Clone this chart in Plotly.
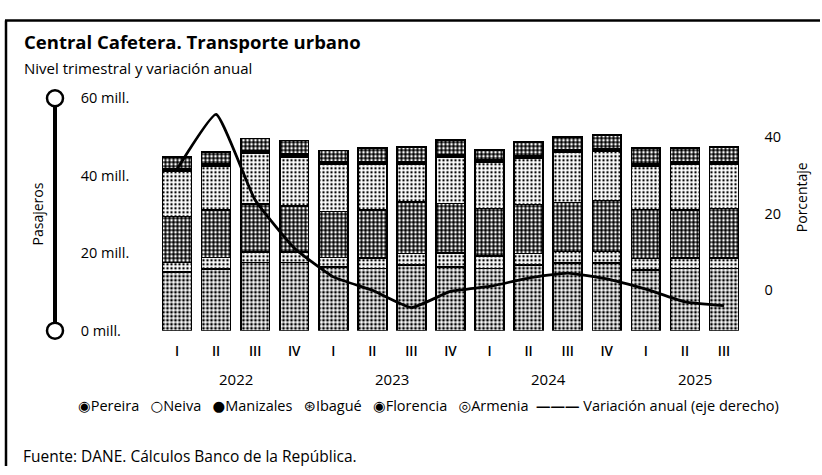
import plotly.graph_objects as go

# ---------------- data ----------------
quarters = ["I", "II", "III", "IV", "I", "II", "III", "IV", "I", "II", "III", "IV", "I", "II", "III"]
years = ["2022", "2023", "2024", "2025"]
left_ticks = [0, 20, 40, 60]
left_tick_labels = ["0 mill.", "20 mill.", "40 mill.", "60 mill."]
right_ticks = [0, 20, 40]

# millions of passengers per quarter
pereira = [15.1, 15.9, 17.6, 17.6, 16.4, 16.1, 16.9, 16.4, 16.1, 16.9, 17.4, 17.4, 15.6, 16.1, 16.1]
neiva = [2.5, 3.0, 2.7, 2.7, 2.5, 2.7, 3.0, 3.7, 3.2, 3.0, 3.0, 3.0, 3.0, 2.7, 2.7]
manizales = [11.9, 12.2, 12.4, 11.9, 11.9, 12.4, 13.4, 12.7, 12.2, 12.7, 12.7, 13.2, 12.7, 12.4, 12.7]
ibague = [11.7, 11.4, 13.2, 12.7, 12.2, 11.7, 9.7, 11.9, 11.9, 11.9, 12.9, 12.7, 11.2, 11.7, 11.4]
florencia = [0.6, 0.6, 0.6, 0.7, 0.6, 0.6, 0.7, 0.7, 0.6, 0.6, 0.7, 0.7, 0.7, 0.6, 0.6]
armenia = [3.1, 3.1, 3.1, 3.5, 2.9, 3.6, 3.8, 3.8, 2.6, 3.6, 3.3, 3.5, 4.0, 3.6, 3.9]
# annual variation (%)
variacion = [31.5, 45.8, 23.5, 11.0, 3.5, 0.0, -4.5, -0.3, 1.0, 3.2, 4.5, 3.0, 0.3, -3.0, -4.0]

series = [
    ("Pereira", pereira),
    ("Neiva", neiva),
    ("Manizales", manizales),
    ("Ibagué", ibague),
    ("Florencia", florencia),
    ("Armenia", armenia),
]

# ---------------- styling ----------------
W, H = 822, 475
FONT = "Open Sans"


def px_x(p):
    return p / W


def px_y(p):
    return (H - p) / H


styles = {
    "Pereira": dict(bg="white", fg="black", size=4, sol=0.42),
    "Neiva": dict(bg="white", fg="black", size=4, sol=0.30),
    "Manizales": dict(bg="black", fg="white", size=4, sol=0.38),
    "Ibagué": dict(bg="white", fg="black", size=4, sol=0.28),
    "Florencia": dict(bg="black", fg="black", size=4, sol=0.5),
    "Armenia": dict(bg="black", fg="white", size=4, sol=0.38),
}

idx = list(range(len(quarters)))
fig = go.Figure()
for name, vals in series:
    s = styles[name]
    fig.add_trace(go.Bar(
        x=idx, y=vals, name=name, showlegend=False,
        marker=dict(
            color=s["bg"],
            line=dict(color="black", width=1.6),
            pattern=dict(shape=".", bgcolor=s["bg"], fgcolor=s["fg"],
                         size=s["size"], solidity=s["sol"], fillmode="replace"),
        ),
    ))

fig.add_trace(go.Scatter(
    x=idx, y=variacion, yaxis="y2", mode="lines", showlegend=False,
    name="Variación anual (eje derecho)",
    line=dict(color="black", width=2.8, shape="spline", smoothing=0.4),
))

x_dom = [px_x(157.5), px_x(743.5)]
y_dom = [px_y(334), px_y(92)]

fig.update_layout(
    width=W, height=H,
    margin=dict(l=0, r=0, t=0, b=0),
    paper_bgcolor="white", plot_bgcolor="white",
    barmode="stack", bargap=0.26,
    font=dict(family=FONT, color="black", size=13),
    xaxis=dict(
        domain=x_dom, range=[-0.5, len(quarters) - 0.5],
        tickvals=idx, ticktext=quarters, ticks="", showgrid=False,
        showline=False, zeroline=False, ticklabelstandoff=11,
        tickfont=dict(size=13.5, family=FONT, weight=600),
    ),
    yaxis=dict(
        domain=y_dom, range=[0, 60], anchor="free", position=px_x(55),
        side="right", showline=True, linecolor="black", linewidth=3.5,
        ticks="", tickvals=left_ticks, ticktext=left_tick_labels,
        ticklabelstandoff=21, showgrid=False, zeroline=False,
        tickfont=dict(size=14.5, family=FONT),
    ),
    yaxis2=dict(
        overlaying="y", side="right", anchor="x", range=[-10.5, 50],
        tickvals=right_ticks, ticks="", showgrid=False, zeroline=False,
        showline=False, ticklabelstandoff=20,
        tickfont=dict(size=14.5, family=FONT),
    ),
)

shapes = []
# end circles of the left axis
for ypx in (334, 92):
    shapes.append(dict(
        type="circle", layer="above",
        xref="paper", xsizemode="pixel", xanchor=px_x(55), x0=-8, x1=8,
        yref="paper", ysizemode="pixel", yanchor=px_y(ypx), y0=-8, y1=8,
        fillcolor="white", line=dict(color="black", width=2.5),
    ))
# frame (top and left)
shapes.append(dict(type="line", xref="paper", yref="paper",
                   x0=px_x(5), x1=px_x(820), y0=px_y(11), y1=px_y(11),
                   line=dict(color="black", width=2.5)))
shapes.append(dict(type="line", xref="paper", yref="paper",
                   x0=px_x(6), x1=px_x(6), y0=0, y1=px_y(11),
                   line=dict(color="black", width=2.5)))
fig.update_layout(shapes=shapes)

ann = []
ann.append(dict(text="Central Cafetera. Transporte urbano", xref="paper", yref="paper",
                x=px_x(22), y=px_y(33), xanchor="left", yanchor="middle", showarrow=False,
                font=dict(size=18.5, family=FONT, weight="bold")))
ann.append(dict(text="Nivel trimestral y variación anual", xref="paper", yref="paper",
                x=px_x(22), y=px_y(60), xanchor="left", yanchor="middle", showarrow=False,
                font=dict(size=15, family=FONT)))
ann.append(dict(text="Pasajeros", xref="paper", yref="paper", textangle=-90,
                x=px_x(37), y=px_y(213), xanchor="center", yanchor="middle", showarrow=False,
                font=dict(size=14, family=FONT)))
ann.append(dict(text="Porcentaje", xref="paper", yref="paper", textangle=-90,
                x=px_x(801), y=px_y(195), xanchor="center", yanchor="middle", showarrow=False,
                font=dict(size=14, family=FONT)))
year_centers = [1.5, 5.5, 9.5, 13.25]
for yr, xc in zip(years, year_centers):
    ann.append(dict(text=yr, xref="x", yref="paper", x=xc, y=px_y(384),
                    xanchor="center", yanchor="middle", showarrow=False,
                    font=dict(size=15, family=FONT)))
sym = "<span style='font-family:DejaVu Sans'>%s</span>"
legend_text = (
    sym % "◉" + "Pereira   " + sym % "○" + "Neiva   " + sym % "●" + "Manizales   "
    + sym % "⊛" + "Ibagué   " + sym % "◉" + "Florencia   " + sym % "◎" + "Armenia  "
    + "<b>———</b> Variación anual (eje derecho)"
)
ann.append(dict(text=legend_text, xref="paper", yref="paper",
                x=px_x(76), y=px_y(412), xanchor="left", yanchor="middle", showarrow=False,
                font=dict(size=14.5, family=FONT)))
ann.append(dict(text="Fuente: DANE. Cálculos Banco de la República.", xref="paper", yref="paper",
                x=px_x(21), y=px_y(465), xanchor="left", yanchor="middle", showarrow=False,
                font=dict(size=15.5, family=FONT)))
fig.update_layout(annotations=ann)

fig.write_html(
    "out.html",
    config={"displayModeBar": False},
    post_script="document.body.style.margin='0';document.body.style.overflow='hidden';",
)
